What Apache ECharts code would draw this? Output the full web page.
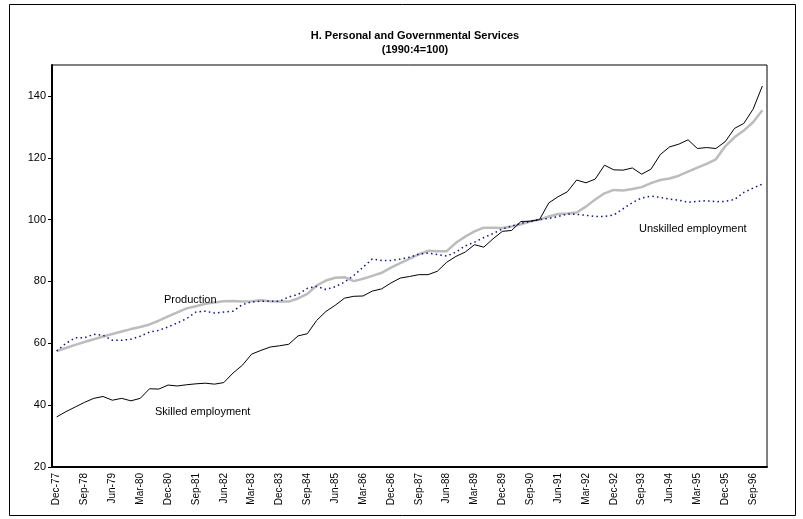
<!DOCTYPE html>
<html>
<head>
<meta charset="utf-8">
<script src="https://cdn.jsdelivr.net/npm/echarts@6/dist/echarts.min.js"></script>
<style>html,body{margin:0;padding:0;background:#fff}#c{width:803px;height:519px}</style>
</head>
<body>
<div id="c"></div>
<script>
const months = ['Mar','Jun','Sep','Dec'];
const categories = [];
for (let y = 1977; y <= 1996; y++) {
  for (let q = 0; q < 4; q++) {
    if (y === 1977 && q < 3) continue;
    categories.push(months[q] + '-' + String(y).slice(2));
  }
}
const skilled = [36.2,37.9,39.4,40.9,42.2,42.8,41.6,42.2,41.4,42.2,45.3,45.2,46.5,46.2,46.6,46.9,47.1,46.8,47.3,50.4,
52.9,56.5,57.7,58.8,59.2,59.7,62.4,63.1,67.4,70.3,72.3,74.6,75.2,75.3,76.9,77.6,79.5,81.1,81.6,82.2,
82.2,83.3,86.2,88.1,89.5,91.9,91.1,93.8,96.2,96.5,99.4,99.5,100,105.4,107.4,109.0,112.8,111.9,113.1,117.6,
116.1,116.0,116.7,114.7,116.3,121.0,123.5,124.4,125.8,123.0,123.3,123.0,125.2,129.5,131.1,135.7,143.2];
const production = [57.5,58.5,59.5,60.4,61.3,62.2,63.0,63.8,64.6,65.3,66.1,67.3,68.7,70.0,71.3,72.0,72.8,73.2,73.6,73.7,
73.5,73.6,73.9,73.6,73.5,73.5,74.5,76.0,78.7,80.3,81.2,81.4,80.1,80.9,81.8,82.8,84.5,85.9,87.3,88.8,
89.9,89.8,89.8,92.5,94.5,96.2,97.4,97.4,97.3,97.8,98.5,99.4,100,101.0,101.8,102.0,102.3,104.2,106.5,108.5,
109.6,109.4,109.9,110.5,111.8,112.8,113.3,114.2,115.5,116.8,118.0,119.5,123.7,126.6,128.8,131.5,135.4];
const unskilled = [57.5,60.0,61.8,61.8,62.9,62.6,61.0,61.0,61.3,62.3,63.6,64.2,65.3,66.6,68.0,70.1,70.4,69.8,70.1,70.4,
72.5,73.4,73.6,73.6,73.6,75.0,75.8,77.8,78.4,77.4,78.3,79.8,81.9,84.6,87.3,86.8,86.8,87.2,87.8,88.8,
89.2,88.7,88.2,89.5,91.5,92.7,94.2,95.5,97.0,97.9,98.8,99.4,100,100.4,101.0,101.8,101.7,101.4,101.0,101.0,
101.5,103.5,105.5,107.0,107.6,107.2,106.6,106.3,105.6,105.9,106.1,105.8,105.9,106.5,108.8,110.2,111.5];
const yTicks = {min: 20, max: 150, interval: 20};

const chart = echarts.init(document.getElementById('c'), null, {renderer: 'canvas'});
const F = 'Liberation Sans, Arial, sans-serif';
chart.setOption({
  animation: false,
  backgroundColor: '#fff',
  title: {
    text: 'H. Personal and Governmental Services\n(1990:4=100)',
    left: 410, top: 24, textAlign: 'center',
    textStyle: {fontFamily: F, fontSize: 11, fontWeight: 'bold', color: '#000', lineHeight: 14}
  },
  grid: {left: 52, right: 36, top: 65, bottom: 52, show: true, borderColor: '#000', borderWidth: 1},
  xAxis: {
    type: 'category', data: categories, boundaryGap: true,
    axisLine: {lineStyle: {color: '#000', width: 2}},
    axisTick: {interval: 0, length: 4, lineStyle: {color: '#000'}},
    axisLabel: {interval: 2, rotate: 90, fontFamily: F, fontSize: 10, color: '#000', margin: 6}
  },
  yAxis: {
    type: 'value', min: yTicks.min, max: yTicks.max, interval: yTicks.interval,
    splitLine: {show: false},
    axisLine: {show: true, lineStyle: {color: '#000', width: 2}},
    axisTick: {show: true, length: 4, lineStyle: {color: '#000'}},
    axisLabel: {showMaxLabel: false, fontFamily: F, fontSize: 11, color: '#000', margin: 6}
  },
  series: [
    {name: 'Production', type: 'line', data: production, symbol: 'none',
     lineStyle: {color: '#bcbcbc', width: 2.5}},
    {name: 'Unskilled employment', type: 'line', data: unskilled, symbol: 'none',
     lineStyle: {color: '#10108a', width: 1.5, type: [1.5, 3.2]}},
    {name: 'Skilled employment', type: 'line', data: skilled, symbol: 'none',
     lineStyle: {color: '#000', width: 1}}
  ],
  graphic: [
    {type: 'rect', shape: {x: 9.5, y: 4.5, width: 786, height: 511}, style: {fill: 'none', stroke: '#000', lineWidth: 1}, silent: true},
    {type: 'text', z: 100, left: 164, top: 294, style: {text: 'Production', font: '11px ' + F, fill: '#000'}},
    {type: 'text', z: 100, left: 155, top: 406, style: {text: 'Skilled employment', font: '11px ' + F, fill: '#000'}},
    {type: 'text', z: 100, left: 639, top: 223, style: {text: 'Unskilled employment', font: '11px ' + F, fill: '#000'}}
  ]
});
</script>
</body>
</html>
